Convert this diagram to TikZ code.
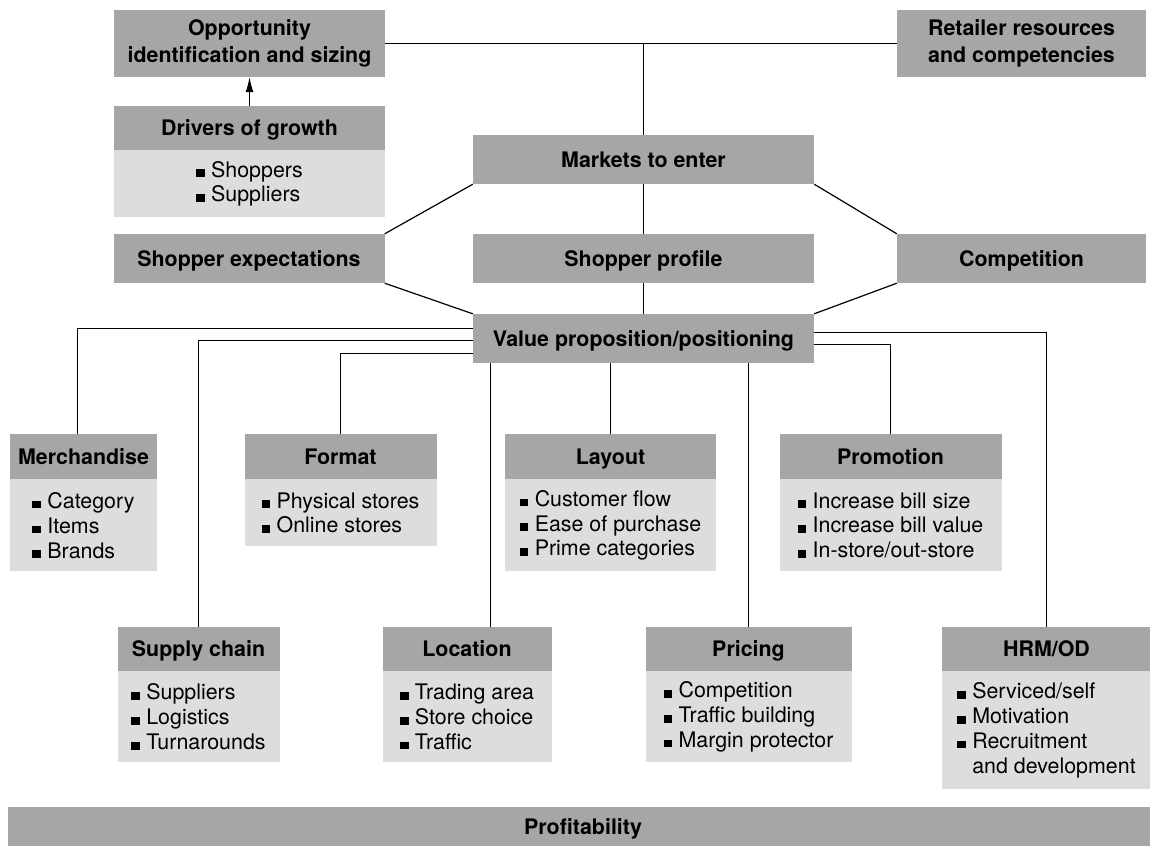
\documentclass[tikz,border=0pt]{standalone}
\usepackage{fontspec}
\setmainfont{TeX Gyre Heros}
\usetikzlibrary{positioning,arrows.meta}
\definecolor{boxdark}{RGB}{166,166,166}
\definecolor{boxlight}{RGB}{221,221,221}
\newcommand{\bul}{\rule{0.4em}{0.36em}\hspace{0.3em}}
\begin{document}
\begin{tikzpicture}[x=1pt,y=-1pt,
  head/.style={fill=boxdark,inner sep=0pt,align=center,
    font=\fontsize{21.4}{27}\selectfont\bfseries},
  title/.style={head,text height=15.5pt,text depth=0pt},
  list/.style={fill=boxlight,inner sep=0pt,align=left,
    font=\fontsize{21.4}{24.8}\selectfont},
  link/.style={line width=1.2pt}]
\useasboundingbox (0,0) rectangle (1150,847);
\node[head,minimum width=271,minimum height=67] (opp) at (249.5,43.5) {Opportunity\\identification and sizing};
\node[head,minimum width=249,minimum height=67] (retail) at (1021.5,43.5) {Retailer resources\\and competencies};
\node[title,minimum width=271,minimum height=44] (drivers) at (249.5,128) {Drivers of growth};
\node[list,minimum width=271,minimum height=67,below=0pt of drivers] (driverslist) {\bul Shoppers\\\bul Suppliers};
\node[title,minimum width=341,minimum height=49] (markets) at (643.5,159.5) {Markets to enter};
\node[title,minimum width=271,minimum height=49] (shopexp) at (249,258.5) {Shopper expectations};
\node[title,minimum width=341,minimum height=49] (shopprof) at (643.5,258.5) {Shopper profile};
\node[title,minimum width=249,minimum height=49] (comp) at (1021.5,258.5) {Competition};
\node[title,minimum width=341,minimum height=49] (valprop) at (643.5,338.5) {Value proposition/positioning};
\node[title,minimum width=147,minimum height=45] (merch) at (83.5,456.5) {Merchandise};
\node[list,minimum width=147,minimum height=92,below=0pt of merch] (merchlist) {\bul Category\\\bul Items\\\bul Brands};
\node[title,minimum width=192,minimum height=45] (format) at (340.5,456.5) {Format};
\node[list,minimum width=192,minimum height=67,below=0pt of format] (formatlist) {\bul Physical stores\\\bul Online stores};
\node[title,minimum width=211,minimum height=45] (layout) at (610.5,456.5) {Layout};
\node[list,minimum width=211,minimum height=92,below=0pt of layout] (layoutlist) {\bul Customer flow\\\bul Ease of purchase\\\bul Prime categories};
\node[title,minimum width=222,minimum height=45] (promo) at (890.5,456.5) {Promotion};
\node[list,minimum width=222,minimum height=92,below=0pt of promo] (promolist) {\bul Increase bill size\\\bul Increase bill value\\\bul In-store/out-store};
\node[title,minimum width=162,minimum height=44] (supply) at (198.5,649) {Supply chain};
\node[list,minimum width=162,minimum height=91,below=0pt of supply] (supplylist) {\bul Suppliers\\\bul Logistics\\\bul Turnarounds};
\node[title,minimum width=169,minimum height=44] (location) at (467,649) {Location};
\node[list,minimum width=169,minimum height=91,below=0pt of location] (locationlist) {\bul Trading area\\\bul Store choice\\\bul Traffic};
\node[title,minimum width=206,minimum height=44] (pricing) at (748.5,649) {Pricing};
\node[list,minimum width=206,minimum height=91,below=0pt of pricing] (pricinglist) {\bul Competition\\\bul Traffic building\\\bul Margin protector};
\node[title,minimum width=210,minimum height=44] (hrm) at (1046.5,649) {HRM/OD};
\node[list,minimum width=210,minimum height=118,below=0pt of hrm] (hrmlist) {\bul Serviced/self\\\bul Motivation\\\bul Recruitment\\\hphantom{\bul}and development};
\node[title,minimum width=1150,minimum height=39] (profit) at (583,826.5) {Profitability};
\draw[link] (opp.east) -- (retail.west);
\draw[link] (markets.north) -- (markets.north |- opp.east);
\draw[link,-{Latex[length=15pt,width=8pt]}] (drivers.north) -- (opp.south);
\draw[link] (markets) -- (shopprof) -- (valprop);
\draw[link] (markets.south west) -- (shopexp.north east);
\draw[link] (markets.south east) -- (comp.north west);
\draw[link] (shopexp.south east) -- (valprop.north west);
\draw[link] (comp.south west) -- (valprop.north east);
\draw[link] ([yshift=-14.5pt]valprop.north west) -| ([xshift=-6pt]merch.north);
\draw[link] ([yshift=-26.5pt]valprop.north west) -| (supply.north);
\draw[link] ([yshift=-39.5pt]valprop.north west) -| (format.north);
\draw[link] ([xshift=23.5pt]location.north |- valprop.south) -- ([xshift=23.5pt]location.north);
\draw[link] (layout.north |- valprop.south) -- (layout.north);
\draw[link] (pricing.north |- valprop.south) -- (pricing.north);
\draw[link] ([yshift=-18.5pt]valprop.north east) -| (hrm.north);
\draw[link] ([yshift=-30.5pt]valprop.north east) -| (promo.north);
\end{tikzpicture}
\end{document}
